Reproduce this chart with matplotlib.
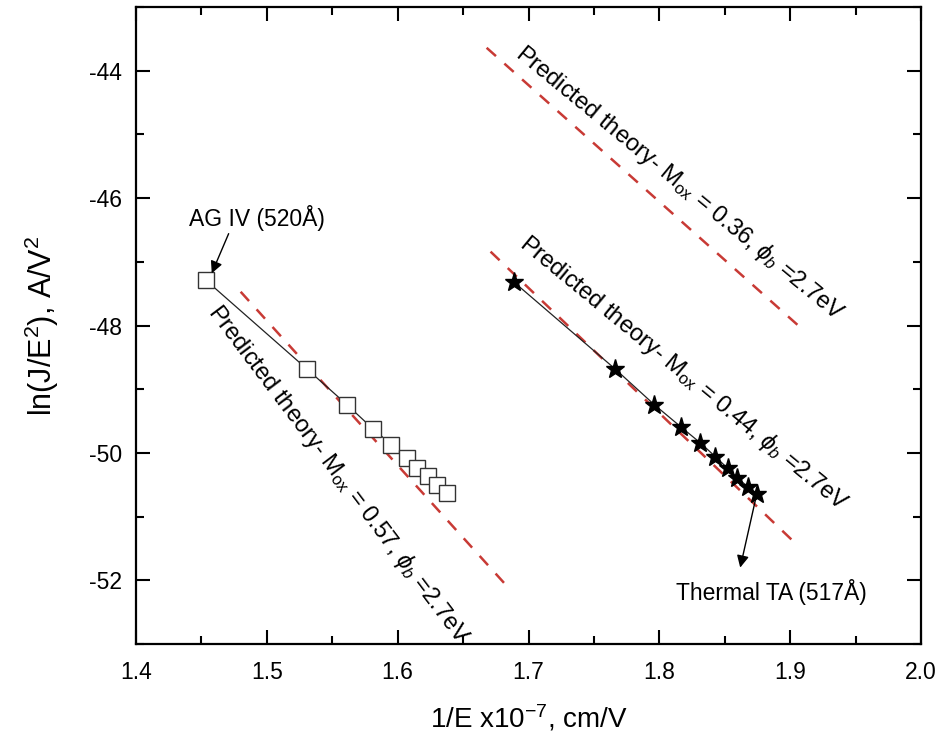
import matplotlib
matplotlib.use("Agg")
import matplotlib.pyplot as plt
from matplotlib.ticker import MultipleLocator

plt.rcParams['font.family'] = ['Liberation Sans', 'DejaVu Sans']
plt.rcParams['mathtext.fontset'] = 'custom'
plt.rcParams['mathtext.rm'] = 'Liberation Sans'
plt.rcParams['mathtext.it'] = 'Liberation Sans:italic'
plt.rcParams['mathtext.bf'] = 'Liberation Sans:bold'

# ---- data ----
ag_x = [1.4535, 1.5305, 1.5611, 1.5810, 1.5952, 1.6070, 1.6151, 1.6232, 1.6299, 1.6375]
ag_y = [-47.29, -48.68, -49.24, -49.62, -49.87, -50.08, -50.23, -50.37, -50.50, -50.63]
ta_x = [1.6890, 1.7661, 1.7960, 1.8164, 1.8312, 1.8429, 1.8521, 1.8597, 1.8674, 1.8745]
ta_y = [-47.32, -48.68, -49.24, -49.59, -49.84, -50.06, -50.24, -50.39, -50.53, -50.64]

th057_x = [1.480, 1.687]
th057_y = [-47.47, -52.17]
th044_x = [1.671, 1.901]
th044_y = [-46.84, -51.36]
th036_x = [1.668, 1.910]
th036_y = [-43.64, -48.07]

x_ticks = [1.4, 1.5, 1.6, 1.7, 1.8, 1.9, 2.0]
y_ticks = [-52, -50, -48, -46, -44]

fig = plt.figure(figsize=(9.43, 7.40), dpi=100)
ax = fig.add_axes([0.1442, 0.1297, 0.8325, 0.8608])

red = '#c83a35'
dash = (0, (5, 4.5))
for xs, ys in [(th057_x, th057_y), (th044_x, th044_y), (th036_x, th036_y)]:
    ax.plot(xs, ys, color=red, lw=1.8, linestyle=dash, zorder=2)

ax.plot(ag_x, ag_y, color='#222222', lw=0.9, marker='s', markersize=11,
        markerfacecolor='white', markeredgecolor='#333333', markeredgewidth=1.0, zorder=3)
ax.plot(ta_x, ta_y, color='#222222', lw=0.9, marker='*', markersize=14,
        markerfacecolor='black', markeredgecolor='black', zorder=3)

ax.set_xlim(1.4, 2.0)
ax.set_ylim(-53, -43)
ax.set_xticks(x_ticks)
ax.set_yticks(y_ticks)
ax.set_xticklabels([f"{v:.1f}" for v in x_ticks])
ax.set_yticklabels([f"{v:d}" for v in y_ticks])
ax.xaxis.set_minor_locator(MultipleLocator(0.05))
ax.yaxis.set_minor_locator(MultipleLocator(1))
ax.tick_params(which='both', direction='in', top=True, right=True, width=1.5, labelsize=16.5)
ax.tick_params(axis='x', which='both', pad=12)
ax.tick_params(axis='y', which='both', pad=10)
ax.tick_params(which='major', length=10)
ax.tick_params(which='minor', length=5.5)
for s in ax.spines.values():
    s.set_linewidth(1.6)

ax.set_xlabel(r"1/E x10$^{-7}$, cm/V", fontsize=20, labelpad=14)
ax.set_ylabel(r"ln(J/E$^{2}$), A/V$^{2}$", fontsize=22, labelpad=20)

fs = 17
ax.text(1.4589, -47.72, r"Predicted theory- M$_{\mathrm{ox}}$ = 0.57, $\phi_{b}$ =2.7eV",
        rotation=-53, rotation_mode='anchor', ha='left', va='center', fontsize=fs)
ax.text(1.6951, -46.66, r"Predicted theory- M$_{\mathrm{ox}}$ = 0.44, $\phi_{b}$ =2.7eV",
        rotation=-39.5, rotation_mode='anchor', ha='left', va='center', fontsize=fs)
ax.text(1.6927, -43.68, r"Predicted theory- M$_{\mathrm{ox}}$ = 0.36, $\phi_{b}$ =2.7eV",
        rotation=-39.5, rotation_mode='anchor', ha='left', va='center', fontsize=fs)

ax.annotate("AG IV (520Å)", xy=(1.4579, -47.18), xytext=(1.4925, -46.31),
            ha='center', va='center', fontsize=16.5,
            arrowprops=dict(arrowstyle='-|>', color='black', lw=1.0, mutation_scale=18,
                            relpos=(0.3, 0.0), shrinkA=0, shrinkB=0))
ax.text(1.886, -52.19, "Thermal TA (517Å)", ha='center', va='center', fontsize=16.5)
ax.annotate("", xy=(1.8618, -51.80), xytext=(ta_x[-1], ta_y[-1]),
            arrowprops=dict(arrowstyle='-|>', color='black', lw=1.0, mutation_scale=18,
                            shrinkA=4, shrinkB=0))

fig.savefig("out.png", dpi=100)
